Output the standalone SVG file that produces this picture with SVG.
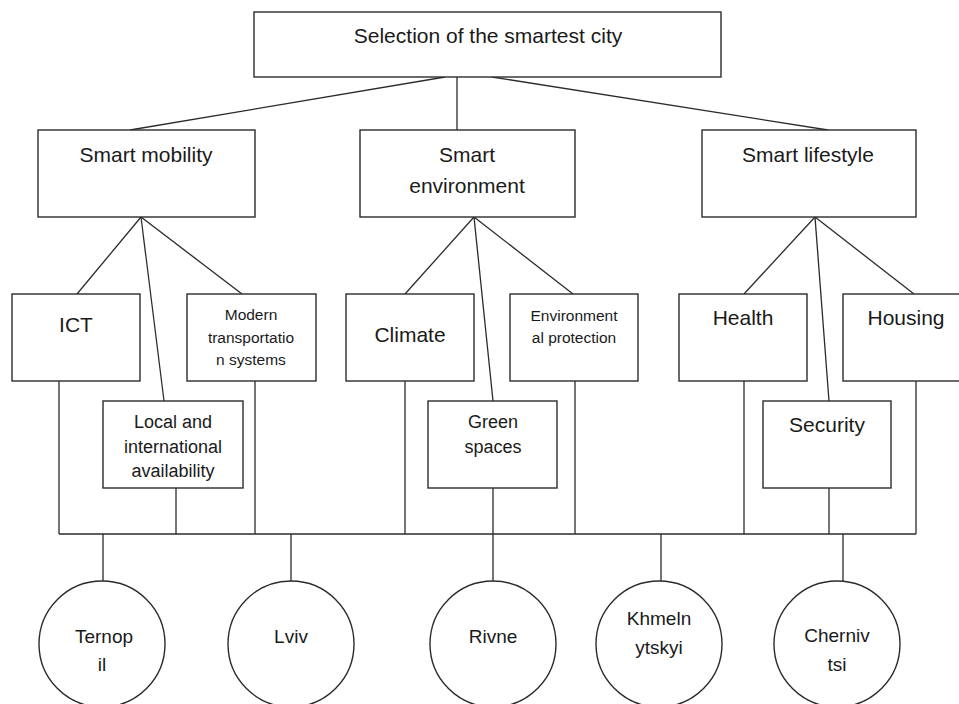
<svg xmlns="http://www.w3.org/2000/svg" width="959" height="704" viewBox="0 0 959 704">
<style>
.box{fill:#fff;stroke:#2b2b2b;stroke-width:1.4}
.ln{stroke:#2b2b2b;stroke-width:1.3;fill:none}
text{font-family:"Liberation Sans",Arial,sans-serif;fill:#1a1a1a;text-anchor:middle}
.l{font-size:21px}
.m{font-size:18px}
.s{font-size:15.5px}
.c{font-size:19px}
</style>
<rect width="959" height="704" fill="#fff"/>
<g id="connectors" class="ln">
<line x1="445" y1="77" x2="130" y2="130"/>
<line x1="457" y1="77" x2="457" y2="130"/>
<line x1="492" y1="77" x2="828" y2="130"/>
<line x1="141" y1="217" x2="77" y2="294"/>
<line x1="141" y1="217" x2="164" y2="401"/>
<line x1="141" y1="217" x2="242" y2="294"/>
<line x1="474" y1="217" x2="405" y2="294"/>
<line x1="474" y1="217" x2="493" y2="401"/>
<line x1="474" y1="217" x2="573" y2="294"/>
<line x1="815" y1="217" x2="744" y2="294"/>
<line x1="815" y1="217" x2="829" y2="401"/>
<line x1="815" y1="217" x2="914" y2="294"/>
<line x1="59" y1="381" x2="59" y2="534"/>
<line x1="176" y1="488" x2="176" y2="534"/>
<line x1="255" y1="381" x2="255" y2="534"/>
<line x1="405" y1="381" x2="405" y2="534"/>
<line x1="493" y1="488" x2="493" y2="534"/>
<line x1="575" y1="381" x2="575" y2="534"/>
<line x1="744" y1="381" x2="744" y2="534"/>
<line x1="829" y1="488" x2="829" y2="534"/>
<line x1="916" y1="381" x2="916" y2="534"/>
<line x1="59" y1="534" x2="916" y2="534"/>
<line x1="103" y1="534" x2="103" y2="581"/>
<line x1="291" y1="534" x2="291" y2="581"/>
<line x1="493" y1="534" x2="493" y2="581"/>
<line x1="661" y1="534" x2="661" y2="581"/>
<line x1="843" y1="534" x2="843" y2="581"/>
</g>
<g id="root"><rect class="box" x="254" y="12" width="467" height="65"/><text class="l" x="488" y="43">Selection of the smartest city</text></g>
<g id="smart-mobility"><rect class="box" x="38" y="130" width="217" height="87"/><text class="l" x="146" y="162">Smart mobility</text></g>
<g id="smart-environment"><rect class="box" x="360" y="130" width="215" height="87"/><text class="l" x="467" y="162">Smart</text><text class="l" x="467" y="193">environment</text></g>
<g id="smart-lifestyle"><rect class="box" x="702" y="130" width="214" height="87"/><text class="l" x="808" y="162">Smart lifestyle</text></g>
<g id="ict"><rect class="box" x="12" y="294" width="128" height="87"/><text class="l" x="76" y="332">ICT</text></g>
<g id="modern"><rect class="box" x="187" y="294" width="129" height="87"/><text class="s" x="251" y="320">Modern</text><text class="s" x="251" y="343">transportatio</text><text class="s" x="251" y="365">n systems</text></g>
<g id="local"><rect class="box" x="103" y="401" width="140" height="87"/><text class="m" x="173" y="428">Local and</text><text class="m" x="173" y="453">international</text><text class="m" x="173" y="477">availability</text></g>
<g id="climate"><rect class="box" x="346" y="294" width="128" height="87"/><text class="l" x="410" y="342">Climate</text></g>
<g id="green"><rect class="box" x="428" y="401" width="129" height="87"/><text class="m" x="493" y="428">Green</text><text class="m" x="493" y="453">spaces</text></g>
<g id="environmental"><rect class="box" x="510" y="294" width="128" height="87"/><text class="s" x="574" y="321">Environment</text><text class="s" x="574" y="343">al protection</text></g>
<g id="health"><rect class="box" x="679" y="294" width="128" height="87"/><text class="l" x="743" y="325">Health</text></g>
<g id="security"><rect class="box" x="763" y="401" width="128" height="87"/><text class="l" x="827" y="432">Security</text></g>
<g id="housing"><rect class="box" x="843" y="294" width="128" height="87"/><text class="l" x="906" y="325">Housing</text></g>
<g id="ternopil"><circle class="box" cx="102" cy="644" r="63"/><text class="c" x="104" y="643">Ternop</text><text class="c" x="102" y="671">il</text></g>
<g id="lviv"><circle class="box" cx="291" cy="644" r="63"/><text class="c" x="291" y="643">Lviv</text></g>
<g id="rivne"><circle class="box" cx="493" cy="644" r="63"/><text class="c" x="493" y="643">Rivne</text></g>
<g id="khmelnytskyi"><circle class="box" cx="659" cy="644" r="63"/><text class="c" x="659" y="625">Khmeln</text><text class="c" x="659" y="654">ytskyi</text></g>
<g id="chernivtsi"><circle class="box" cx="837" cy="644" r="63"/><text class="c" x="837" y="642">Cherniv</text><text class="c" x="837" y="671">tsi</text></g>
</svg>
